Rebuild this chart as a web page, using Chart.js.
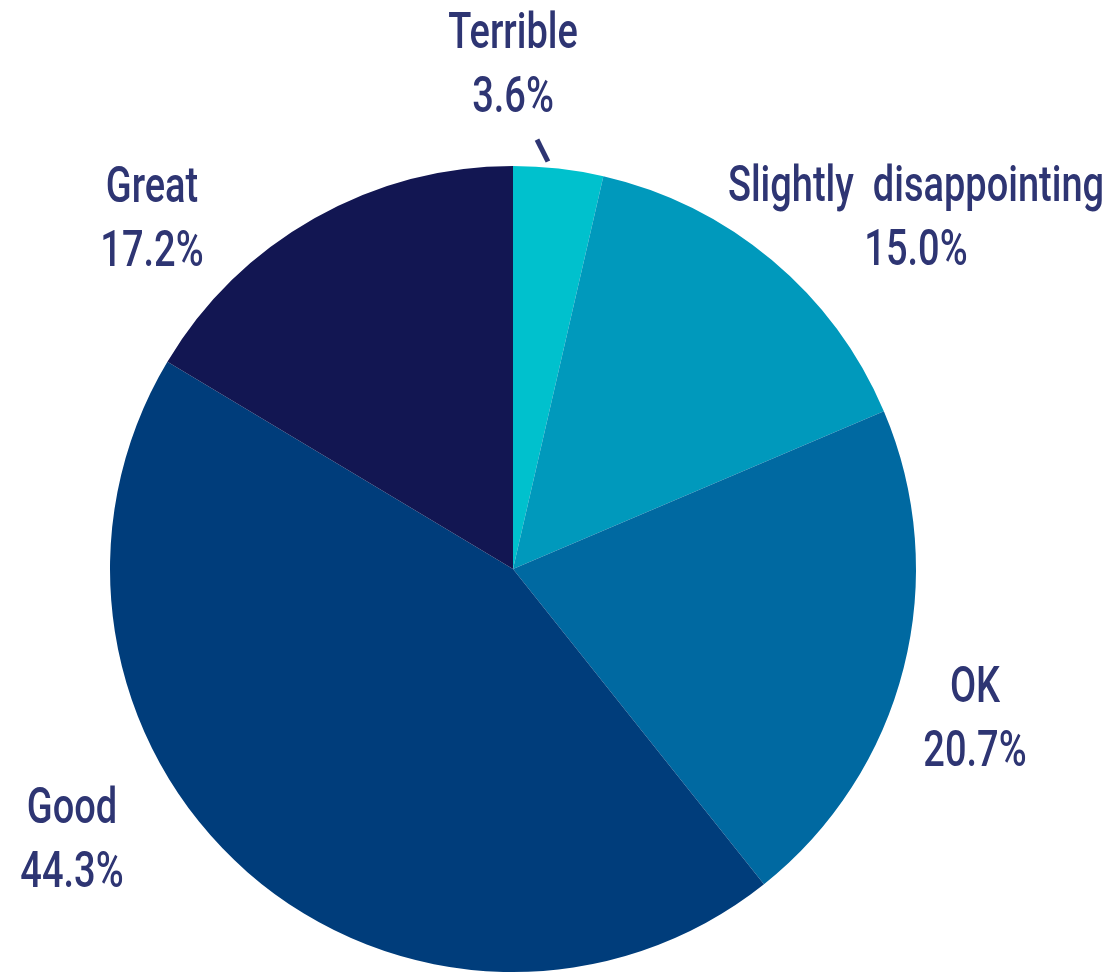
<!DOCTYPE html>
<html lang="en">
<head>
  <meta charset="UTF-8">
  <title>Rating Pie</title>
  <script src="https://cdn.jsdelivr.net/npm/chart.js"></script>
  <style>
    body { margin: 0; padding: 0; background: #ffffff; }
    #wrap { width: 1113px; height: 973px; }
  </style>
</head>
<body>
  <div id="wrap"><canvas id="pieChart" width="1113" height="973"></canvas></div>

  <script>
    const categories = ['Terrible', 'Slightly  disappointing', 'OK', 'Good', 'Great'];
    const shareLabels = ['3.6%', '15.0%', '20.7%', '44.3%', '17.2%'];
    // slice sizes (the Great slice is drawn as the remainder)
    const sliceValues = [3.6, 15.0, 20.7, 44.3, 16.4];
    const sliceColors = ['#00c1cd', '#0099bc', '#0069a1', '#003d7b', '#121652'];

    const textColor = '#2e3573';
    const labelFont = '500 50px Roboto, "DejaVu Sans Condensed", sans-serif';
    const squeeze = 0.76; // fake a condensed face

    // label block centres, relative to the pie centre
    const labelOffsets = [[0, -507], [403, -354], [462, 147], [-441, 268], [-361, -353]];

    const outsideLabels = {
      id: 'outsideLabels',
      afterDraw(chart) {
        const ctx = chart.ctx;
        const arcs = chart.getDatasetMeta(0).data;
        const cx = arcs[0].x, cy = arcs[0].y, r = arcs[0].outerRadius;
        ctx.save();
        ctx.fillStyle = textColor;
        ctx.font = labelFont;
        ctx.textAlign = 'center';
        ctx.textBaseline = 'alphabetic';
        categories.forEach((name, i) => {
          const x = cx + labelOffsets[i][0];
          const y = cy + labelOffsets[i][1];
          ctx.save();
          ctx.translate(x, y);
          ctx.scale(squeeze, 1);
          ctx.fillText(name, 0, -14);
          ctx.fillText(shareLabels[i], 0, 50);
          ctx.restore();
        });
        // small leader tick for the thin Terrible slice
        const a1 = 4.9 * Math.PI / 180, a2 = 3.2 * Math.PI / 180;
        ctx.strokeStyle = textColor;
        ctx.lineWidth = 5;
        ctx.beginPath();
        ctx.moveTo(cx + (r + 6) * Math.sin(a1), cy - (r + 6) * Math.cos(a1));
        ctx.lineTo(cx + (r + 27) * Math.sin(a2), cy - (r + 27) * Math.cos(a2));
        ctx.stroke();
        ctx.restore();
      }
    };

    const ctx = document.getElementById('pieChart').getContext('2d');
    new Chart(ctx, {
      type: 'pie',
      data: {
        labels: categories,
        datasets: [{
          data: sliceValues,
          backgroundColor: sliceColors,
          borderWidth: 0
        }]
      },
      options: {
        responsive: false,
        devicePixelRatio: 1,
        animation: false,
        layout: { padding: { left: 110, right: 197, top: 166, bottom: 1 } },
        plugins: {
          legend: { display: false },
          tooltip: { enabled: false }
        }
      },
      plugins: [outsideLabels]
    });
  </script>
</body>
</html>
